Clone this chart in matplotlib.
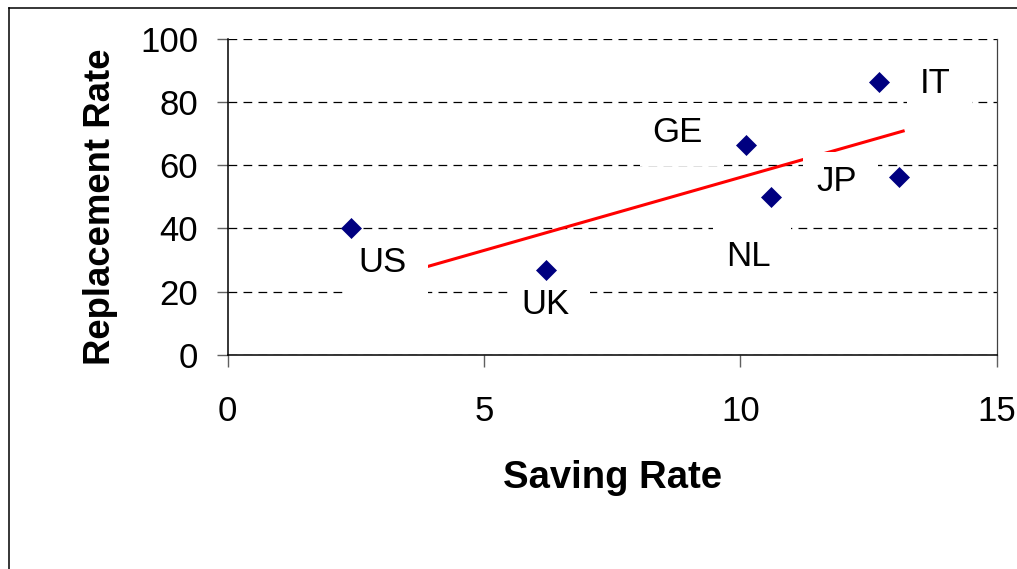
import matplotlib
matplotlib.use("Agg")
import matplotlib.pyplot as plt
from matplotlib.path import Path
from matplotlib.lines import Line2D

# ---- data ----
countries = ["US", "UK", "GE", "NL", "IT", "JP"]
saving_rate = [2.4, 6.2, 10.1, 10.6, 12.7, 13.1]
replacement_rate = [40.0, 27.0, 66.4, 50.0, 86.4, 56.3]
trend_x = [3.8, 13.2]
trend_y = [27.5, 70.9]
x_ticks = [0, 5, 10, 15]
y_ticks = [0, 20, 40, 60, 80, 100]

# label offsets (points) relative to each marker
label_offsets = [(23, -31.7), (0, -31.7), (-49, 2.2), (-16.6, -49.7), (40.7, -7.9), (-45.4, -10)]

plt.rcParams['font.family'] = ['Liberation Sans', 'DejaVu Sans']

fig = plt.figure(figsize=(10.17, 5.69), dpi=100)
ax = fig.add_axes([0.2237, 0.3761, 0.7566, 0.5562])

# outer frame (left and top edges visible)
fig.add_artist(Line2D([8.5 / 1017, 8.5 / 1017], [-0.05, 1 - 7.5 / 569], transform=fig.transFigure,
                      color='black', lw=1.1))
fig.add_artist(Line2D([8.5 / 1017, 1.05], [1 - 7.5 / 569, 1 - 7.5 / 569], transform=fig.transFigure,
                      color='black', lw=1.1))

ax.set_xlim(0, 15)
ax.set_ylim(0, 100)
ax.set_xticks(x_ticks)
ax.set_yticks(y_ticks)
ax.set_xticklabels([str(v) for v in x_ticks])
ax.set_yticklabels([str(v) for v in y_ticks])

ax.grid(axis='y', color='black', lw=0.9, linestyle=(0, (7, 5)), zorder=1)
ax.set_axisbelow(True)

ax.spines['top'].set_visible(False)
ax.spines['right'].set_color('#404040')
ax.spines['right'].set_linewidth(0.9)
ax.spines['left'].set_linewidth(1.1)
ax.spines['bottom'].set_linewidth(1.1)

ax.tick_params(axis='y', direction='out', length=8, width=1, color='#606060', pad=13, labelsize=25)
ax.tick_params(axis='x', direction='out', length=8.5, width=1, color='#606060', pad=20, labelsize=25)

# trend line
ax.plot(trend_x, trend_y, color='#ff0000', lw=2.2, zorder=3, solid_capstyle='butt')

# markers
ax.plot(saving_rate, replacement_rate, linestyle='none', marker='D', ms=10, color='#000080',
        markeredgecolor='#000080', markeredgewidth=0.5, zorder=6)


def label_box(x0, y0, width, height, mutation_size):
    l = 0.37 * mutation_size
    r = 0.6 * mutation_size
    t = 0.36 * mutation_size
    b = 0.5 * mutation_size
    xa, xb = x0 - l, x0 + width + r
    ya, yb = y0 - b, y0 + height + t
    return Path([(xa, ya), (xb, ya), (xb, yb), (xa, yb), (xa, ya)], closed=True)


for name, xv, yv, off in zip(countries, saving_rate, replacement_rate, label_offsets):
    ax.annotate(name, (xv, yv), xytext=off, textcoords='offset points', ha='center', va='baseline',
                fontsize=25, color='black', zorder=4,
                bbox=dict(boxstyle=label_box, facecolor='white', edgecolor='none'))

ax.set_xlabel("Saving Rate", fontsize=27.5, fontweight='bold', va='top')
ax.xaxis.set_label_coords(0.5, -0.332)
ax.set_ylabel("Replacement Rate", fontsize=26.3, fontweight='bold')
ax.yaxis.set_label_coords(-0.1427, 0.469)

fig.savefig("out.png", dpi=100)
